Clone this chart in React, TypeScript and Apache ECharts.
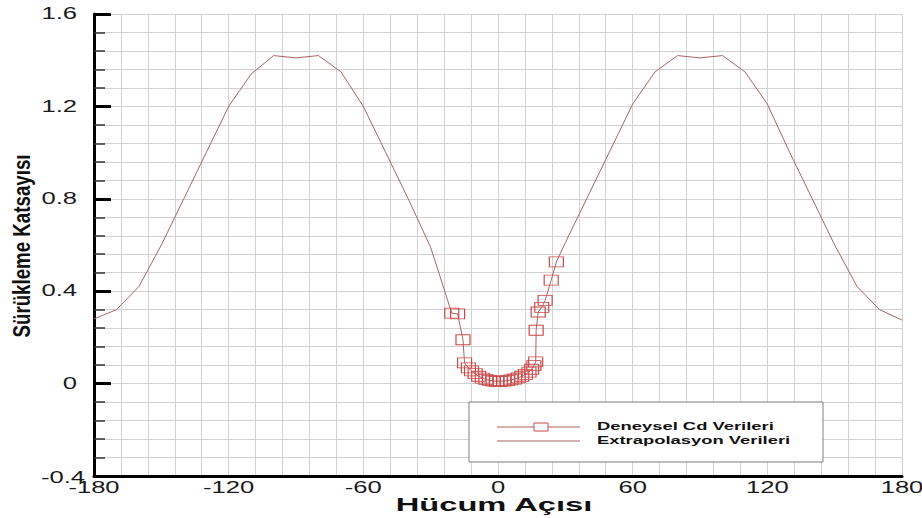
import React, { useEffect, useRef } from "react";
import * as echarts from "echarts";

// Extrapolated drag coefficient, negative side (angle of attack in degrees)
const extrapLeftAngles = [-180, -170, -160, -150, -140, -130, -120, -110, -100, -90, -80, -70, -60, -50, -40, -30];
const extrapLeftCd = [0.28, 0.32, 0.42, 0.6, 0.8, 1.0, 1.2, 1.34, 1.42, 1.41, 1.42, 1.35, 1.2, 1.0, 0.8, 0.59];

// Extrapolated drag coefficient, positive side
const extrapRightAngles = [30, 40, 50, 60, 70, 80, 90, 100, 110, 120, 130, 140, 150, 160, 170, 180];
const extrapRightCd = [0.61, 0.81, 1.01, 1.21, 1.35, 1.42, 1.41, 1.42, 1.35, 1.21, 1.0, 0.8, 0.6, 0.42, 0.32, 0.275];

// Measured (wind tunnel) drag coefficient
const expAngles = [
  -20.6, -18.0, -15.6, -14.9, -13.2, -11.8, -10.2, -8.6, -7.0, -5.4, -3.8, -2.2, -0.6,
  1.0, 2.6, 4.2, 5.8, 7.4, 9.0, 10.6, 12.2, 13.8, 15.0, 16.0, 16.8, 17.0, 17.9, 19.5,
  21.0, 23.7, 26.0,
];
const expCd = [
  0.305, 0.302, 0.19, 0.09, 0.068, 0.055, 0.043, 0.032, 0.024, 0.018, 0.014, 0.011, 0.01,
  0.01, 0.011, 0.013, 0.016, 0.02, 0.025, 0.032, 0.04, 0.05, 0.062, 0.078, 0.094, 0.231, 0.31, 0.33,
  0.36, 0.448, 0.527,
];

const xTicks = [-180, -120, -60, 0, 60, 120, 180];
const yTicks = [-0.4, 0, 0.4, 0.8, 1.2, 1.6];
const yTickLabels = ["-0.4", "0", "0.4", "0.8", "1.2", "1.6"];

const X_MIN = -180;
const X_MAX = 180;
const Y_MIN = -0.4;
const Y_MAX = 1.6;

const xTitle = "Hücum Açısı";
const yTitle = "Sürükleme Katsayısı";
const legendNames = ["Deneysel Cd Verileri", "Extrapolasyon Verileri"];

const FONT = "'Liberation Sans', Arial, sans-serif";
const EXTRAP_COLOR = "#a86464";
const EXP_LINE_COLOR = "#b06060";
const EXP_MARK_COLOR = "#cc4848";
const GRID_COLOR = "#d2d2d2";

export default function App() {
  const ref = useRef<HTMLDivElement>(null);

  useEffect(() => {
    const el = ref.current;
    if (!el) return;
    const chart = echarts.init(el, null, { renderer: "svg" });

    const expData = expAngles.map((a, i) => [a, expCd[i]]);
    const leftData = extrapLeftAngles.map((a, i) => [a, extrapLeftCd[i]]);
    leftData.push(expData[0]);
    const rightData = [expData[expData.length - 1]].concat(
      extrapRightAngles.map((a, i) => [a, extrapRightCd[i]])
    );

    const gridLine = { show: true, lineStyle: { color: GRID_COLOR, width: 1 } };

    chart.setOption({
      animation: false,
      backgroundColor: "#ffffff",
      grid: { left: 94, top: 14, width: 808, height: 462, containLabel: false },
      xAxis: {
        type: "value",
        min: X_MIN,
        max: X_MAX,
        interval: 60,
        axisLine: { show: true, onZero: false, lineStyle: { color: "#000", width: 3 } },
        axisTick: { show: false },
        minorTick: { show: false, splitNumber: 5 },
        axisLabel: { show: false },
        splitLine: gridLine,
        minorSplitLine: gridLine,
      },
      yAxis: {
        type: "value",
        min: Y_MIN,
        max: Y_MAX,
        interval: 0.4,
        axisLine: { show: true, onZero: false, lineStyle: { color: "#000", width: 3 } },
        axisTick: { show: true, inside: true, length: 17, lineStyle: { color: "#000", width: 3 } },
        minorTick: { show: true, splitNumber: 5, length: 11, lineStyle: { color: "#333", width: 1.5 } },
        axisLabel: { show: false },
        splitLine: gridLine,
        minorSplitLine: gridLine,
      },
      series: [
        {
          name: legendNames[1],
          type: "line",
          data: leftData,
          symbol: "none",
          lineStyle: { color: EXTRAP_COLOR, width: 1 },
          z: 2,
        },
        {
          name: legendNames[1],
          type: "line",
          data: rightData,
          symbol: "none",
          lineStyle: { color: EXTRAP_COLOR, width: 1 },
          z: 2,
        },
        {
          name: legendNames[0],
          type: "line",
          data: expData,
          symbol: "rect",
          symbolSize: [14, 10],
          showSymbol: true,
          showAllSymbol: true,
          lineStyle: { color: EXP_LINE_COLOR, width: 1 },
          itemStyle: { color: "transparent", borderColor: EXP_MARK_COLOR, borderWidth: 1 },
          z: 3,
        },
      ],
    });

    // Tick labels and titles, placed through the grid's own scales
    const elements: any[] = [];
    const labelStyle = { fontSize: 16, fontFamily: FONT, fill: "#1a1a1a" };

    xTicks.forEach((v) => {
      const p = chart.convertToPixel({ gridIndex: 0 }, [v, Y_MIN]) as number[];
      elements.push({
        type: "text",
        x: p[0],
        y: p[1] + 12,
        scaleX: 1.6,
        z: 10,
        style: { ...labelStyle, text: String(v), align: "center", verticalAlign: "middle" },
      });
    });

    yTicks.forEach((v, i) => {
      const p = chart.convertToPixel({ gridIndex: 0 }, [X_MIN, v]) as number[];
      elements.push({
        type: "text",
        x: p[0] - (i === 0 ? 9 : 17),
        y: p[1] + (i === 0 ? 2 : 0),
        scaleX: 1.6,
        z: 9,
        style: { ...labelStyle, text: yTickLabels[i], align: "right", verticalAlign: "middle" },
      });
    });

    elements.push({
      type: "text",
      x: 494,
      y: 505,
      scaleX: 1.72,
      z: 10,
      style: {
        text: xTitle,
        fontSize: 19,
        fontWeight: "bold",
        fontFamily: FONT,
        fill: "#111",
        align: "center",
        verticalAlign: "middle",
      },
    });

    elements.push({
      type: "text",
      x: 22,
      y: 246,
      rotation: Math.PI / 2,
      scaleX: 1.04,
      scaleY: 1.32,
      z: 10,
      style: {
        text: yTitle,
        fontSize: 18,
        fontWeight: "bold",
        fontFamily: FONT,
        fill: "#111",
        align: "center",
        verticalAlign: "middle",
      },
    });

    // Legend box
    elements.push({
      type: "rect",
      z: 20,
      shape: { x: 469, y: 402, width: 354, height: 60 },
      style: { fill: "#ffffff", stroke: "#808080", lineWidth: 1 },
    });
    const rows = [427, 441];
    rows.forEach((ry, i) => {
      elements.push({
        type: "line",
        z: 21,
        shape: { x1: 497, y1: ry, x2: 580, y2: ry },
        style: { stroke: i === 0 ? EXP_LINE_COLOR : EXTRAP_COLOR, lineWidth: 1 },
      });
      if (i === 0) {
        elements.push({
          type: "rect",
          z: 22,
          shape: { x: 534, y: ry - 4, width: 14, height: 8 },
          style: { fill: "#ffffff", stroke: EXP_MARK_COLOR, lineWidth: 1 },
        });
      }
      elements.push({
        type: "text",
        x: 597,
        y: ry,
        scaleX: 1.84,
        z: 22,
        style: {
          text: legendNames[i],
          fontSize: 10,
          fontWeight: "bold",
          fontFamily: FONT,
          fill: "#111",
          align: "left",
          verticalAlign: "middle",
        },
      });
    });

    chart.setOption({ graphic: { elements } });

    return () => chart.dispose();
  }, []);

  return (
    <div
      ref={ref}
      style={{ position: "fixed", left: 0, top: 0, width: 922, height: 518, background: "#fff" }}
    />
  );
}
